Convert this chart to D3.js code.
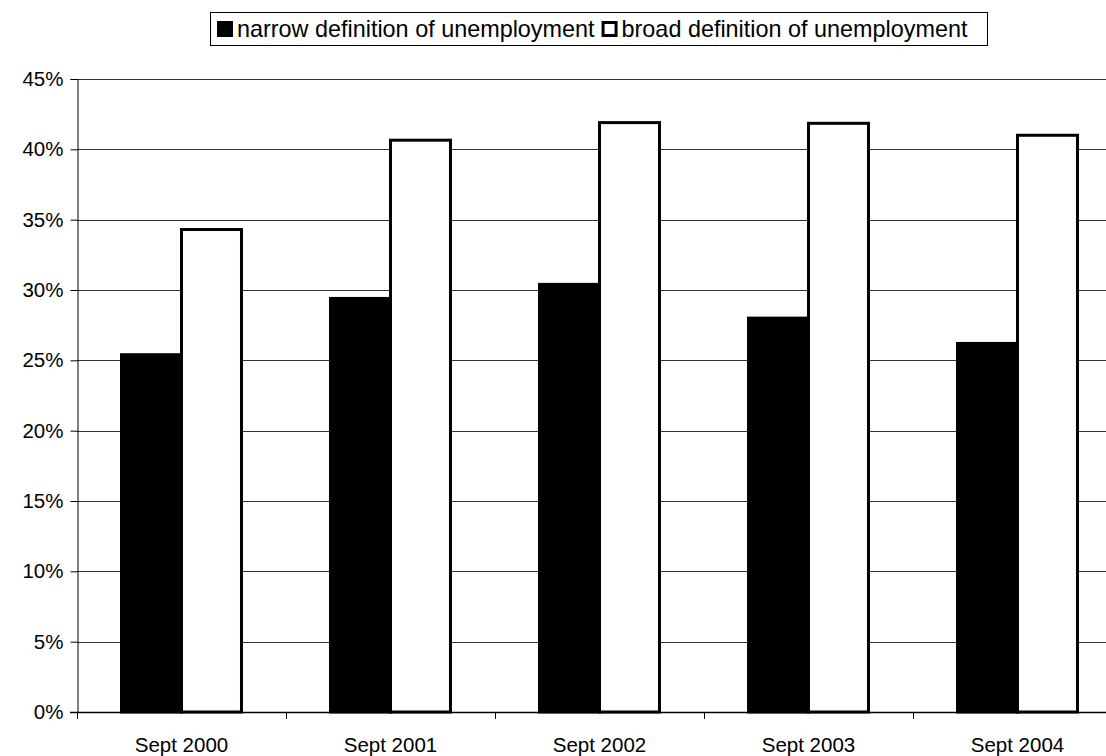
<!DOCTYPE html>
<html>
<head>
<meta charset="utf-8">
<script src="https://cdn.jsdelivr.net/npm/d3@7"></script>
<style>
body { margin: 0; background: #fff; }
text { font-family: "Liberation Sans", Arial, sans-serif; }
</style>
</head>
<body>
<div id="chart"></div>
<script>
//-------------------------------------
// data
//-------------------------------------
var categories = ["Sept 2000", "Sept 2001", "Sept 2002", "Sept 2003", "Sept 2004"];
var narrow = [25.4, 29.4, 30.4, 28.0, 26.2];
var broad = [34.3, 40.65, 41.9, 41.85, 41.0];
var seriesNames = ["narrow definition of unemployment", "broad definition of unemployment"];
var yTicks = [0, 5, 10, 15, 20, 25, 30, 35, 40, 45];

var width = 1106;
var height = 756;
var plotLeft = 77, plotTop = 79, plotBottom = 712;
var band = 209;

var svg = d3.select("#chart")
	.append("svg")
	.attr("width", width)
	.attr("height", height);

var x = d3.scaleBand()
	.domain(categories)
	.range([plotLeft, plotLeft + band * categories.length])
	.paddingInner(0.426)
	.paddingOuter(0.213);

var sub = d3.scaleBand()
	.domain([0, 1])
	.range([0, x.bandwidth()]);

var y = d3.scaleLinear()
	.domain([0, 45])
	.range([plotBottom, plotTop]);

// gridlines
svg.append("g")
	.selectAll("line")
	.data(yTicks.slice(1))
	.enter()
	.append("line")
	.attr("x1", plotLeft)
	.attr("x2", width)
	.attr("y1", function(d) { return Math.round(y(d)) + 0.5; })
	.attr("y2", function(d) { return Math.round(y(d)) + 0.5; })
	.style("stroke", "#333")
	.style("stroke-width", 1);

// bars
var rows = categories.map(function(c, i) { return { cat: c, vals: [narrow[i], broad[i]] }; });

var groups = svg.append("g")
	.selectAll("g")
	.data(rows)
	.enter()
	.append("g")
	.attr("transform", function(d) { return "translate(" + x(d.cat) + ",0)"; });

groups.selectAll("rect")
	.data(function(d) { return d.vals; })
	.enter()
	.append("rect")
	.attr("x", function(d, i) { return sub(i); })
	.attr("width", sub.bandwidth())
	.attr("y", function(d) { return y(d); })
	.attr("height", function(d) { return plotBottom - y(d); })
	.style("fill", function(d, i) { return i == 0 ? "#000" : "#fff"; })
	.style("stroke", "#000")
	.style("stroke-width", 3);

// y axis
var yAxis = svg.append("g")
	.attr("transform", "translate(" + (plotLeft + 0.5) + ",0)")
	.call(d3.axisLeft(y).tickValues(yTicks).tickSize(7).tickPadding(7)
		.tickFormat(function(d) { return d + "%"; }));
yAxis.select(".domain").style("stroke", "#000");
yAxis.selectAll(".tick line").style("stroke", "#000");
yAxis.selectAll("text").style("font-size", "20.5px").style("fill", "#000")
	.style("font-family", "'Liberation Sans', Arial, sans-serif");

// x axis
var boundaries = d3.range(categories.length + 1).map(function(i) { return plotLeft + i * band; });
svg.append("line")
	.attr("x1", plotLeft - 7).attr("x2", width)
	.attr("y1", plotBottom + 0.5).attr("y2", plotBottom + 0.5)
	.style("stroke", "#000").style("stroke-width", 1.5);
svg.append("g")
	.selectAll("line")
	.data(boundaries)
	.enter()
	.append("line")
	.attr("x1", function(d) { return d + 0.5; })
	.attr("x2", function(d) { return d + 0.5; })
	.attr("y1", plotBottom)
	.attr("y2", plotBottom + 7)
	.style("stroke", "#000");
svg.append("g")
	.selectAll("text")
	.data(categories)
	.enter()
	.append("text")
	.attr("x", function(d) { return x(d) + x.bandwidth() / 2; })
	.attr("y", 752)
	.attr("text-anchor", "middle")
	.style("font-size", "20.5px")
	.text(function(d) { return d; });

// legend
var legend = svg.append("g");
legend.append("rect")
	.attr("x", 210.5).attr("y", 12.5)
	.attr("width", 777).attr("height", 33)
	.style("fill", "#fff").style("stroke", "#000").style("stroke-width", 1);

// place entries one after another
var cursor = 217;
seriesNames.forEach(function(name, i) {
	legend.append("rect")
		.attr("x", cursor + 1.5)
		.attr("y", 22.5)
		.attr("width", 13).attr("height", 13)
		.style("fill", i == 0 ? "#000" : "#fff")
		.style("stroke", "#000").style("stroke-width", 3);
	var t = legend.append("text")
		.attr("x", cursor + 20)
		.attr("y", 37)
		.style("font-size", "23.4px")
		.text(name);
	cursor = cursor + 20 + t.node().getComputedTextLength() + 7;
});
</script>
</body>
</html>
